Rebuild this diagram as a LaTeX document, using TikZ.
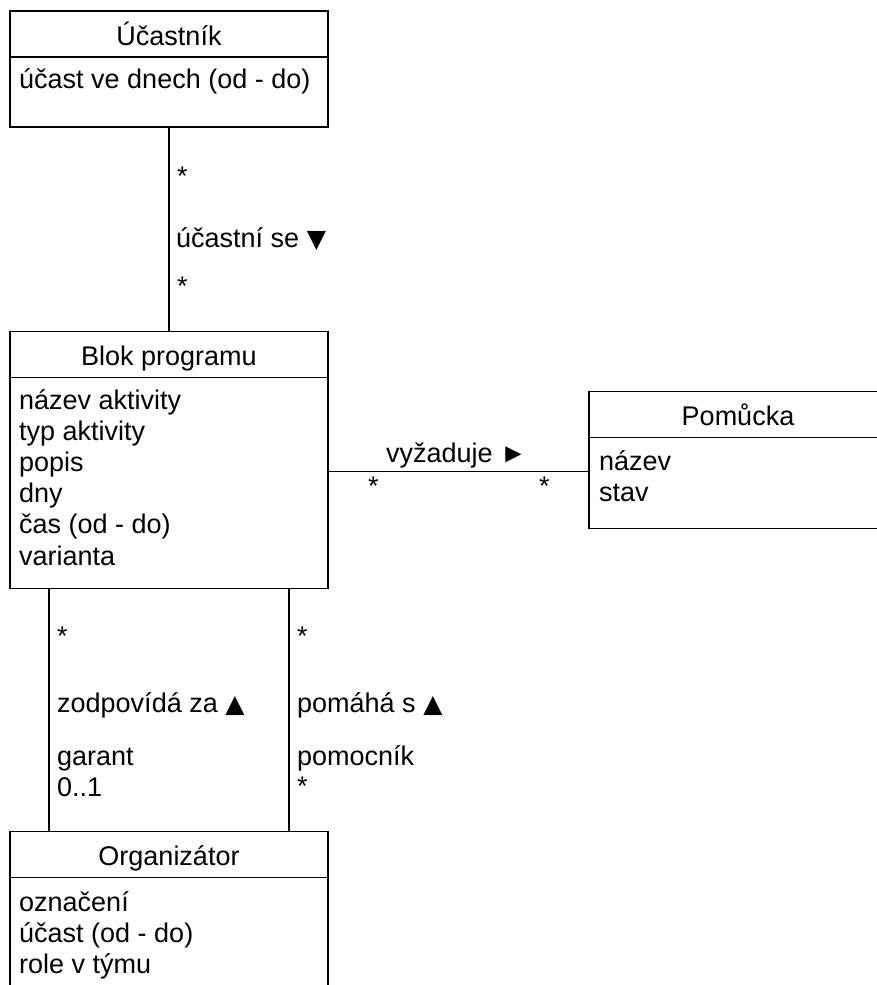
\documentclass[tikz,border=0pt]{standalone}
\usepackage{fontspec}
\setmainfont{Liberation Sans}
\newfontfamily\symfont{DejaVu Sans}

\begin{document}
\begin{tikzpicture}[x=1pt, y=-1pt,
  every node/.style={font=\fontsize{27}{32}\selectfont},
  hdr/.style={draw, line width=1.6pt, outer sep=0pt, inner sep=0pt, minimum width=318pt, minimum height=46pt, text height=24pt, text depth=2pt},
  body/.style={draw, line width=1.6pt, outer sep=0pt, inner sep=0pt, minimum width=318pt, anchor=north},
  attr/.style={anchor=base west, inner sep=0pt},
  conn/.style={line width=1.3pt}]

% Define a variable for spacing
\def\attrsep{31.2}

\clip (0,0) rectangle (877,985);

% Ucastnik
\node[hdr] (uc) at (169,34) {Účastník};
\node[body, minimum height=70pt] (uc_b) at (uc.south) {};
\node[attr] (uc_a1) at (19,88) {účast ve dnech (od - do)};

% Blok programu
\node[hdr] (blok) at (169,354.5) {Blok programu};
\node[body, minimum height=211pt] (blok_b) at (blok.south) {};
\foreach \lbl [count=\i] in {název aktivity, typ aktivity, popis, dny, čas (od - do), varianta} {
    \node[attr] (blok_a\i) at (19, {409 + \attrsep*(\i-1)}) {\lbl};
}

% Pomucka
\node[hdr, minimum width=298pt] (pom) at (738,414.5) {Pomůcka};
\node[body, minimum width=298pt, minimum height=91pt] (pom_b) at (pom.south) {};
\foreach \lbl [count=\i] in {název, stav} {
    \node[attr] (pom_a\i) at (599, {470 + \attrsep*(\i-1)}) {\lbl};
}

% Organizator
\node[hdr] (org) at (169,854.5) {Organizátor};
\node[body, minimum height=130pt] (org_b) at (org.south) {};
\foreach \lbl [count=\i] in {označení, účast (od - do), role v týmu} {
    \node[attr] (org_a\i) at (19, {911 + \attrsep*(\i-1)}) {\lbl};
}

% Associations
\draw[conn] (uc_b.south) -- (blok.north);
\draw[conn] ([yshift=11.5pt]blok_b.east) -- ([yshift=11.5pt]pom_b.west);
\draw[conn] ([xshift=39pt]blok_b.south west) -- ([xshift=39pt]org.north west);
\draw[conn] ([xshift=-39pt]blok_b.south east) -- ([xshift=-39pt]org.north east);

% Association labels and multiplicities
\node[attr] (m1) at (177,185) {*};
\node[attr] (r1) at (176,247) {účastní se {\symfont\fontsize{25}{30}\selectfont ▼}};
\node[attr] (m2) at (177,295) {*};

\node[attr] (r2) at (386,462) {vyžaduje ►};
\node[attr] (m3) at (368,495) {*};
\node[attr] (m4) at (539,495) {*};

\node[attr] (m5) at (57,645) {*};
\node[attr] (r3) at (57,712) {zodpovídá za {\symfont\fontsize{25}{30}\selectfont ▲}};
\node[attr] (n1) at (57,765) {garant};
\node[attr] (m6) at (57,796) {0..1};

\node[attr] (m7) at (297,645) {*};
\node[attr] (r4) at (297,712) {pomáhá s {\symfont\fontsize{25}{30}\selectfont ▲}};
\node[attr] (n2) at (297,765) {pomocník};
\node[attr] (m8) at (297,795) {*};

\end{tikzpicture}
\end{document}
